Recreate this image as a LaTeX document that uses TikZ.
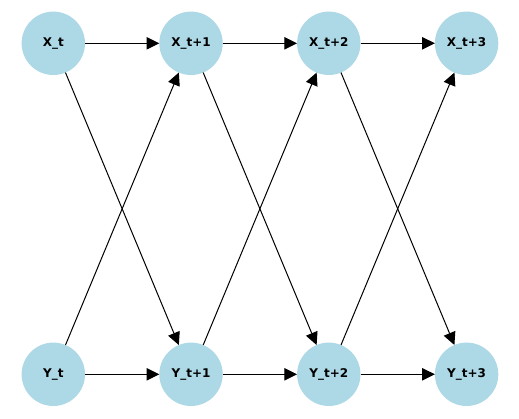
\documentclass[tikz,border=0pt]{standalone}
\usepackage{fontspec}
\setmainfont{DejaVu Sans}
\usepackage{tikz}
\usetikzlibrary{arrows.meta}
\definecolor{nodeblue}{RGB}{173, 216, 230}

\begin{document}
\begin{tikzpicture}[x=1pt, y=1pt,
    state/.style={circle, fill=nodeblue, minimum size=63.4pt, inner sep=0pt, outer sep=0pt,
                  font=\fontsize{12}{14}\selectfont\bfseries},
    arrow/.style={-{Triangle[length=12.7pt, width=12.3pt]}, line width=1pt, black}
]
    \useasboundingbox (0,0) rectangle (519,419);

    % X row
    \node[state] (x0) at (53.3,375.7) {X\_t};
    \node[state] (x1) at (191,375.7) {X\_t+1};
    \node[state] (x2) at (328.8,375.7) {X\_t+2};
    \node[state] (x3) at (466.6,375.7) {X\_t+3};

    % Y row
    \node[state] (y0) at (53.3,44.7) {Y\_t};
    \node[state] (y1) at (191,44.7) {Y\_t+1};
    \node[state] (y2) at (328.8,44.7) {Y\_t+2};
    \node[state] (y3) at (466.6,44.7) {Y\_t+3};

    % Edges
    \draw[arrow] (x0) -- (x1);
    \draw[arrow] (x1) -- (x2);
    \draw[arrow] (x2) -- (x3);
    \draw[arrow] (y0) -- (y1);
    \draw[arrow] (y1) -- (y2);
    \draw[arrow] (y2) -- (y3);
    \draw[arrow] (x0) -- (y1);
    \draw[arrow] (x1) -- (y2);
    \draw[arrow] (x2) -- (y3);
    \draw[arrow] (y0) -- (x1);
    \draw[arrow] (y1) -- (x2);
    \draw[arrow] (y2) -- (x3);
\end{tikzpicture}
\end{document}
